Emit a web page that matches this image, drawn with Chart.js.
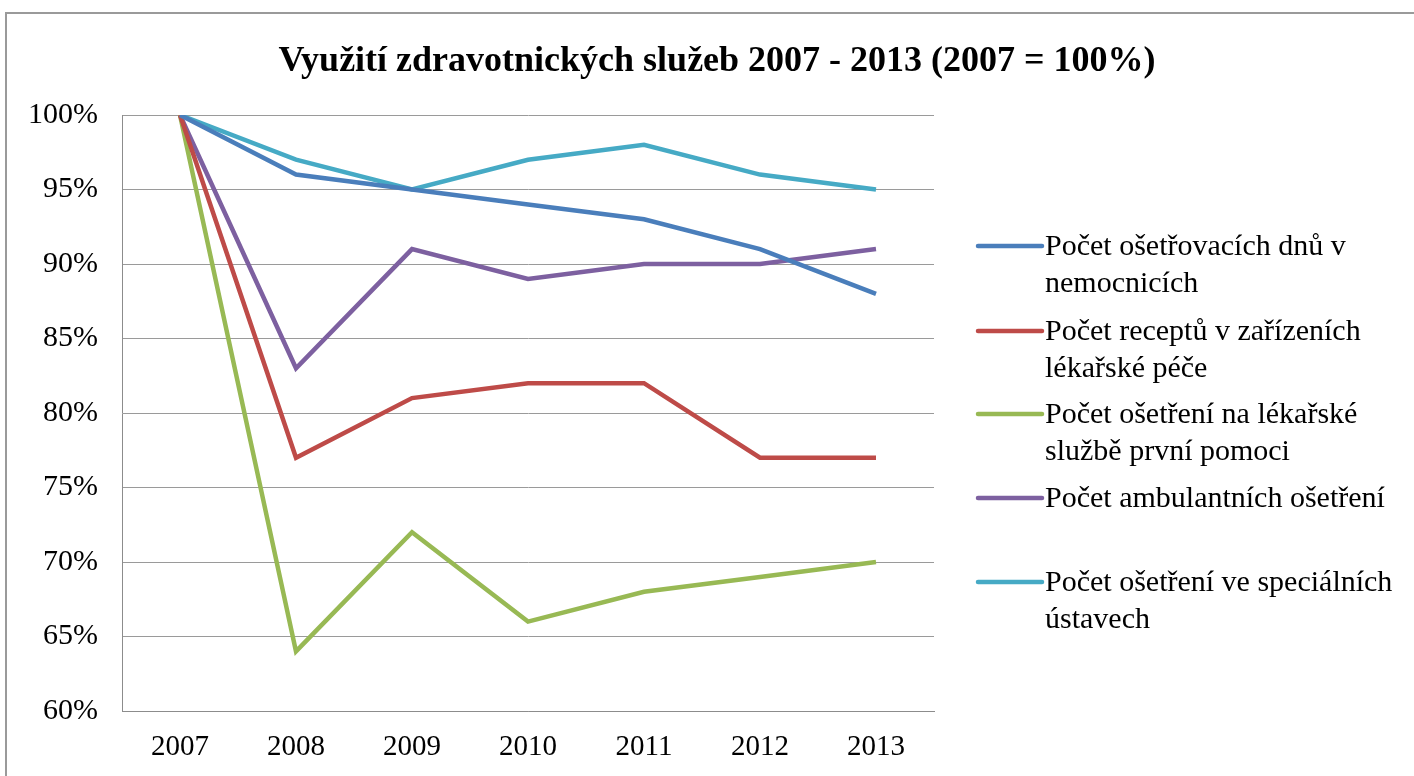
<!DOCTYPE html>
<html>
<head>
<meta charset="utf-8">
<script src="https://cdn.jsdelivr.net/npm/chart.js@4.4.1/dist/chart.umd.min.js"></script>
<style>
  html, body { margin: 0; padding: 0; background: #fff; }
  #wrap { position: relative; width: 1414px; height: 776px; }
</style>
</head>
<body>
<div id="wrap"><canvas id="chart_healthServices"></canvas></div>
<script>
var years = ['2007', '2008', '2009', '2010', '2011', '2012', '2013'];

var hospitalDays = [100, 96, 95, 94, 93, 91, 88];
var prescriptions = [100, 77, 81, 82, 82, 77, 77];
var firstAid = [100, 64, 72, 66, 68, 69, 70];
var outpatient = [100, 83, 91, 89, 90, 90, 91];
var specialInstitutions = [100, 97, 95, 97, 98, 96, 95];

var seriesLabels = [
    ['Počet ošetřovacích dnů v', 'nemocnicích'],
    ['Počet receptů v zařízeních', 'lékařské péče'],
    ['Počet ošetření na lékařské', 'službě první pomoci'],
    ['Počet ambulantních ošetření'],
    ['Počet ošetření ve speciálních', 'ústavech']
];
var seriesColors = ['#4a7ebb', '#be4b48', '#98b954', '#7d60a0', '#46aac5'];

var chartTitle = 'Využití zdravotnických služeb 2007 - 2013 (2007 = 100%)';
var serif = '"Liberation Serif", "Times New Roman", serif';

function makeSet(i, values) {
    return {
        label: seriesLabels[i].join(' '),
        data: values,
        borderColor: seriesColors[i],
        backgroundColor: seriesColors[i],
        borderWidth: 4.5,
        pointRadius: 0,
        tension: 0
    };
}

var chart_healthServices = new Chart(document.getElementById('chart_healthServices'), {
    type: 'line',
    data: {
        labels: years,
        datasets: [
            makeSet(0, hospitalDays),
            makeSet(1, prescriptions),
            makeSet(2, firstAid),
            makeSet(3, outpatient),
            makeSet(4, specialInstitutions)
        ]
    },
    options: {
        animation: false,
        responsive: true,
        maintainAspectRatio: false,
        layout: {
            padding: { top: 115, right: 480, left: 0, bottom: 0 }
        },
        plugins: {
            legend: { display: false },
            title: { display: false },
            tooltip: { enabled: false }
        },
        scales: {
            x: {
                offset: true,
                grid: { display: false, drawTicks: false },
                border: { display: true, color: '#8c8c8c', width: 1 },
                ticks: {
                    color: '#000',
                    padding: 19,
                    font: { family: serif, size: 29 }
                },
                afterFit: function (scale) { scale.height = 65; }
            },
            y: {
                min: 60,
                max: 100,
                grid: { color: '#9a9a9a', lineWidth: 1, drawTicks: false },
                border: { display: true, color: '#8c8c8c', width: 1 },
                ticks: {
                    stepSize: 5,
                    color: '#000',
                    padding: 24,
                    font: { family: serif, size: 30 },
                    callback: function (v) { return v + '%'; }
                },
                afterFit: function (scale) { scale.width = 122; }
            }
        }
    },
    plugins: [{
        id: 'frameTitleLegend',
        beforeDraw: function (chart) {
            var ctx = chart.ctx;
            ctx.save();
            ctx.fillStyle = 'white';
            ctx.fillRect(0, 0, chart.width, chart.height);
            ctx.strokeStyle = '#9a9a9a';
            ctx.lineWidth = 2;
            ctx.beginPath();
            ctx.moveTo(6, chart.height);
            ctx.lineTo(6, 13);
            ctx.lineTo(chart.width, 13);
            ctx.stroke();
            ctx.restore();
        },
        afterDraw: function (chart) {
            var ctx = chart.ctx;
            ctx.save();
            // title
            ctx.fillStyle = '#000';
            ctx.font = 'bold 36px ' + serif;
            ctx.textAlign = 'center';
            ctx.textBaseline = 'middle';
            ctx.fillText(chartTitle, 717, 62);

            // legend on the right
            var itemY = [246, 331, 414, 498, 582];
            ctx.font = '30px ' + serif;
            ctx.textAlign = 'left';
            chart.data.datasets.forEach(function (ds, i) {
                var y = itemY[i];
                ctx.strokeStyle = ds.borderColor;
                ctx.lineWidth = 4.5;
                ctx.lineCap = 'round';
                ctx.beginPath();
                ctx.moveTo(978, y);
                ctx.lineTo(1042, y);
                ctx.stroke();
                ctx.fillStyle = '#000';
                seriesLabels[i].forEach(function (line, k) {
                    ctx.fillText(line, 1045, y + 1 + k * 37);
                });
            });
            ctx.restore();
        }
    }]
});
</script>
</body>
</html>
